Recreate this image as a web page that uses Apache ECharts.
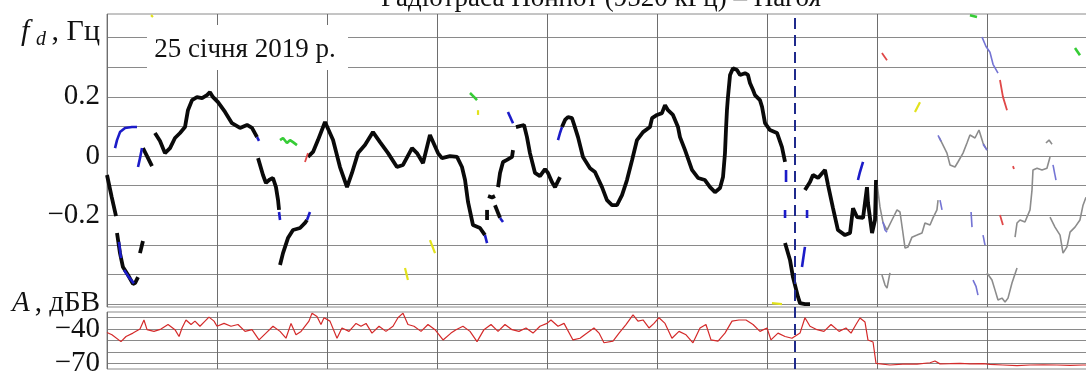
<!DOCTYPE html>
<html><head><meta charset="utf-8">
<script src="https://cdn.jsdelivr.net/npm/echarts@6/dist/echarts.min.js"></script>
<style>html,body{margin:0;padding:0;background:#fff}#c{width:1086px;height:374px}</style>
</head><body><div id="c"></div>
<script>
// ---------- data (x in grid units of the time axis, y in Hz / dBV) ----------
const titleText = 'Радіотраса Нонпот (9520 кГц) – Нагоя';
const dateText = '25 січня 2019 р.';
const topTicks = [-0.5,-0.4,-0.3,-0.2,-0.1,0,0.1,0.2,0.3,0.4];
const topLabels = [-0.2,0,0.2];
const bottomTicks = [-70,-60,-50,-40,-30];
const bottomLabels = [-70,-40];
const dashedLineX = 6.245;

const blackSegments = [
 [[0,-0.064],[0.043,-0.139],[0.082,-0.203]],
 [[0.091,-0.260],[0.118,-0.328],[0.145,-0.375],[0.191,-0.402],[0.236,-0.432],[0.255,-0.429],[0.282,-0.409]],
 [[0.30,-0.328],[0.327,-0.287]],
 [[0.327,0.027],[0.373,-0.007],[0.409,-0.034]],
 [[0.436,0.078],[0.482,0.051],[0.527,0.010],[0.573,0.027],[0.618,0.061],[0.664,0.078],[0.709,0.098],[0.736,0.155],[0.773,0.189],[0.818,0.199],[0.864,0.196],[0.909,0.206],[0.936,0.216],[0.964,0.199],[1.009,0.182],[1.073,0.149],[1.136,0.111],[1.209,0.095],[1.273,0.105],[1.318,0.095],[1.364,0.064]],
 [[1.373,-0.007],[1.418,-0.064],[1.445,-0.091],[1.473,-0.081],[1.509,-0.074],[1.536,-0.105],[1.555,-0.149],[1.564,-0.182]],
 [[1.573,-0.368],[1.6,-0.328],[1.645,-0.277],[1.691,-0.25],[1.755,-0.243],[1.8,-0.226],[1.818,-0.216]],
 [[1.827,-0.003],[1.873,0.014],[1.918,0.054],[1.982,0.115],[2.055,0.054],[2.118,-0.037],[2.182,-0.105],[2.227,-0.057],[2.282,0.010],[2.345,0.037],[2.418,0.081],[2.482,0.047],[2.555,0.010],[2.636,-0.037],[2.691,-0.030],[2.773,0.027],[2.818,0.010],[2.873,-0.024],[2.936,0.071],[3.009,0.010],[3.045,-0.007],[3.118,0],[3.182,-0.003],[3.227,-0.037],[3.255,-0.081],[3.282,-0.155],[3.327,-0.233],[3.391,-0.243],[3.436,-0.267]],
 [[3.455,-0.182],[3.455,-0.216]],
 [[3.464,-0.135],[3.5,-0.14],[3.527,-0.135]],
 [[3.527,-0.166],[3.573,-0.209]],
 [[3.555,-0.105],[3.573,-0.057],[3.6,-0.020],[3.636,-0.013],[3.682,-0.003],[3.691,0.020]],
 [[3.718,0.098],[3.791,0.105],[3.818,0.064],[3.845,0.010],[3.891,-0.057],[3.936,-0.068],[3.982,-0.044],[4.009,-0.057],[4.045,-0.088],[4.073,-0.105],[4.118,-0.071]],
 [[4.136,0.098],[4.164,0.122],[4.191,0.132],[4.227,0.128],[4.245,0.108],[4.282,0.064],[4.327,-0.003],[4.391,-0.041],[4.436,-0.054],[4.5,-0.105],[4.545,-0.149],[4.591,-0.166],[4.636,-0.166],[4.682,-0.132],[4.727,-0.081],[4.773,-0.014],[4.818,0.054],[4.873,0.081],[4.936,0.098],[4.955,0.128],[5.0,0.139],[5.045,0.145],[5.073,0.172],[5.1,0.155],[5.145,0.139],[5.191,0.098],[5.209,0.064],[5.255,0.020],[5.318,-0.047],[5.373,-0.074],[5.436,-0.081],[5.482,-0.105],[5.527,-0.122],[5.573,-0.108],[5.6,-0.071],[5.618,0.010],[5.627,0.088],[5.636,0.155],[5.645,0.199],[5.664,0.274],[5.691,0.297],[5.727,0.291],[5.755,0.274],[5.8,0.280],[5.827,0.274],[5.845,0.247],[5.873,0.223],[5.891,0.206],[5.936,0.189],[5.955,0.166],[5.982,0.111],[6.0,0.105],[6.027,0.088],[6.091,0.078],[6.136,0.030],[6.164,-0.020]],
 [[6.164,-0.294],[6.209,-0.351],[6.236,-0.409],[6.282,-0.476],[6.3,-0.497],[6.345,-0.5],[6.391,-0.5]],
 [[6.345,-0.115],[6.391,-0.088],[6.418,-0.064],[6.464,-0.074],[6.527,-0.047],[6.555,-0.098],[6.6,-0.176],[6.645,-0.25],[6.709,-0.267],[6.755,-0.260],[6.782,-0.176],[6.818,-0.206],[6.873,-0.209],[6.909,-0.105],[6.918,-0.159],[6.955,-0.26],[6.982,-0.216],[6.991,-0.081]]
];
const blueSegments = [
 [[0.073,0.027],[0.091,0.054],[0.118,0.081],[0.164,0.095],[0.227,0.098],[0.273,0.098]],
 [[0.282,-0.037],[0.3,-0.007],[0.318,0.027]],
 [[0.109,-0.29],[0.127,-0.345]],
 [[0.155,-0.385],[0.2,-0.41],[0.245,-0.43]],
 [[1.364,0.064],[1.382,0.051]],
 [[1.564,-0.189],[1.573,-0.216]],
 [[1.818,-0.216],[1.845,-0.189]],
 [[3.436,-0.267],[3.455,-0.294]],
 [[3.573,-0.209],[3.6,-0.223]],
 [[3.645,0.149],[3.691,0.111]],
 [[4.1,0.054],[4.118,0.078],[4.136,0.098]],
 [[6.173,-0.047],[6.173,-0.088]],
 [[6.164,-0.182],[6.164,-0.209]],
 [[6.318,-0.375],[6.345,-0.307]],
 [[6.364,-0.182],[6.364,-0.209]],
 [[6.827,-0.081],[6.845,-0.054],[6.873,-0.020]]
];
const lightBlueSegments = [
 [[7.055,-0.223],[7.073,-0.25],[7.091,-0.257]],
 [[7.573,-0.149],[7.591,-0.182]],
 [[7.555,0.070],[7.582,0.050]],
 [[7.964,0.040],[8.0,0.020]],
 [[7.855,-0.189],[7.864,-0.24]],
 [[7.964,-0.267],[7.982,-0.301]],
 [[7.873,-0.419],[7.9,-0.44],[7.918,-0.47]],
 [[8.6,-0.030],[8.627,-0.081]],
 [[7.955,0.402],[7.991,0.370],[8.027,0.351],[8.055,0.310],[8.1,0.280]]
];
const redSegments = [
 [[1.8,-0.020],[1.827,0.010]],
 [[8.118,-0.199],[8.145,-0.233]],
 [[8.236,-0.034],[8.245,-0.044]],
 [[7.045,0.348],[7.07,0.335],[7.091,0.324]],
 [[8.118,0.257],[8.145,0.200],[8.182,0.155]]
];
const greenSegments = [
 [[1.573,0.054],[1.6,0.061],[1.636,0.044],[1.664,0.054],[1.691,0.047],[1.727,0.037]],
 [[7.845,0.476],[7.909,0.470]],
 [[8.8,0.365],[8.845,0.341]],
 [[3.3,0.213],[3.336,0.200],[3.364,0.189]]
];
const yellowSegments = [
 [[7.345,0.149],[7.391,0.182]],
 [[0.4,0.476],[0.418,0.470]],
 [[3.373,0.155],[3.373,0.139]],
 [[2.936,-0.284],[2.982,-0.328]],
 [[2.709,-0.378],[2.736,-0.419]],
 [[6.045,-0.497],[6.136,-0.500]]
];
const graySegments = [
 [[6.991,-0.081],[7.0,-0.091],[7.027,-0.172],[7.055,-0.226],[7.091,-0.25],[7.136,-0.216],[7.182,-0.182],[7.209,-0.189],[7.236,-0.26],[7.255,-0.311],[7.282,-0.307],[7.318,-0.274],[7.364,-0.267],[7.409,-0.26],[7.436,-0.226],[7.482,-0.233],[7.509,-0.209],[7.545,-0.182],[7.555,-0.149]],
 [[7.564,0.064],[7.591,0.044],[7.636,0.010],[7.664,-0.030],[7.709,-0.037],[7.736,-0.020],[7.782,0.010],[7.818,0.044],[7.845,0.071],[7.891,0.061],[7.927,0.088],[7.964,0.044],[8.0,0.020]],
 [[7.045,-0.402],[7.073,-0.436],[7.091,-0.446],[7.118,-0.395]],
 [[8.0,-0.395],[8.045,-0.419],[8.073,-0.453],[8.1,-0.486],[8.136,-0.48],[8.164,-0.493],[8.191,-0.48],[8.227,-0.429],[8.273,-0.378]],
 [[8.255,-0.274],[8.273,-0.226],[8.3,-0.216],[8.345,-0.223],[8.391,-0.182],[8.409,-0.115],[8.418,-0.047],[8.455,-0.041],[8.5,-0.047],[8.545,-0.041],[8.573,-0.003]],
 [[8.536,0.044],[8.564,0.054],[8.591,0.040]],
 [[8.573,-0.206],[8.618,-0.24],[8.664,-0.267],[8.691,-0.328],[8.727,-0.307],[8.755,-0.257],[8.8,-0.24],[8.845,-0.216],[8.873,-0.166],[8.9,-0.139]]
];
const amplitude = [
 [0,-43],[0.045,-45],[0.127,-51],[0.173,-46.5],[0.236,-43.5],[0.3,-40],[0.336,-32],[0.364,-40.5],[0.427,-42],[0.491,-40],[0.555,-36],[0.618,-40.5],[0.655,-46.5],[0.682,-39],[0.718,-32],[0.764,-36],[0.8,-33],[0.845,-37.5],[0.891,-33],[0.927,-29.5],[0.973,-33],[1.0,-37.5],[1.064,-35],[1.127,-37.5],[1.191,-36],[1.255,-42],[1.318,-40.5],[1.382,-49.5],[1.445,-43.5],[1.509,-37.5],[1.573,-42],[1.627,-48],[1.673,-35],[1.718,-45],[1.764,-42],[1.836,-33],[1.864,-26],[1.909,-29],[1.945,-36],[1.973,-30],[2.027,-33],[2.091,-48],[2.136,-39],[2.2,-42],[2.264,-35],[2.309,-37.5],[2.355,-35],[2.409,-43.5],[2.473,-37.5],[2.536,-42],[2.6,-37.5],[2.645,-30],[2.691,-26],[2.736,-36],[2.791,-37.5],[2.855,-42],[2.918,-36],[2.982,-40.5],[3.055,-49.5],[3.127,-43.5],[3.173,-40.5],[3.236,-37.5],[3.3,-42],[3.364,-51],[3.427,-40.5],[3.491,-36],[3.555,-42],[3.618,-36],[3.682,-40.5],[3.745,-42],[3.809,-39],[3.873,-43.5],[3.936,-37.5],[4.0,-35],[4.036,-32],[4.1,-37.5],[4.155,-35],[4.236,-49.5],[4.3,-48],[4.364,-43.5],[4.427,-39],[4.473,-43.5],[4.518,-52],[4.6,-50.5],[4.655,-43.5],[4.718,-36],[4.782,-27.5],[4.827,-33],[4.873,-32],[4.927,-39],[4.973,-35],[5.018,-30],[5.073,-35],[5.136,-48],[5.2,-42],[5.264,-45],[5.327,-52],[5.391,-39],[5.445,-36],[5.491,-49.5],[5.555,-50.5],[5.618,-43.5],[5.682,-33],[5.745,-32],[5.809,-32],[5.873,-36],[5.936,-42],[6.0,-39],[6.036,-49.5],[6.1,-43.5],[6.164,-46.5],[6.227,-48],[6.3,-43.5],[6.345,-30],[6.391,-37.5],[6.455,-40.5],[6.518,-42],[6.582,-36],[6.655,-42],[6.718,-39],[6.764,-43.5],[6.809,-36],[6.845,-30.3],[6.891,-33.8],[6.918,-49.6],[6.964,-51.3],[6.991,-70],[7.0,-70.5],[7.118,-71.5],[7.236,-70.8],[7.364,-70.8],[7.482,-69.5],[7.527,-68],[7.573,-70.5],[7.664,-70.3],[7.755,-70],[7.845,-70.5],[7.964,-70.3],[8.027,-71],[8.145,-71.5],[8.273,-72],[8.391,-71.5],[8.509,-71.3],[8.636,-71.5],[8.755,-71.8],[8.873,-71.5],[8.9,-71.5]
];

// ---------- chart ----------
const FONT = 'Liberation Serif';
const GRID = '#8a8a8a';
const fmt = v => (v < 0 ? '\u2212' : '') + Math.abs(v);

function segSeries(segs, color, width, z) {
  return segs.map(s => ({
    type: 'line', xAxisIndex: 0, yAxisIndex: 0, data: s, symbol: 'none',
    lineStyle: { color: color, width: width }, z: z, silent: true, animation: false
  }));
}

const series = [].concat(
  segSeries(graySegments, '#8c8c8c', 1.6, 3),
  segSeries(blackSegments, '#0a0a0a', 3.8, 4),
  segSeries(blueSegments, '#1c1cc8', 2.6, 5),
  segSeries(lightBlueSegments, '#7474d4', 1.6, 5),
  segSeries(redSegments, '#e04848', 1.8, 5),
  segSeries(greenSegments, '#36cc36', 2.6, 5),
  segSeries(yellowSegments, '#e2e21c', 2.2, 5),
  [{
    type: 'line', xAxisIndex: 1, yAxisIndex: 1, data: amplitude, symbol: 'none',
    lineStyle: { color: '#d42a2a', width: 1.2 }, z: 4, animation: false
  },
  {
    type: 'line', xAxisIndex: 2, yAxisIndex: 2, data: [], animation: false,
    markLine: { symbol: 'none', silent: true, label: { show: false },
      lineStyle: { color: '#1f2a8c', width: 2, type: [11, 6] }, data: [{ xAxis: dashedLineX }] }
  }]
);

const xAxisCommon = {
  type: 'value', min: 0, max: 9, interval: 1,
  axisLine: { show: false }, axisTick: { show: false }, axisLabel: { show: false },
  splitLine: { show: true, lineStyle: { color: '#6e6e6e', width: 1 } }
};

const option = {
  backgroundColor: '#fff',
  animation: false,
  grid: [
    { left: 107, width: 990, top: 14, height: 293, outerBoundsMode: 'none', containLabel: false, show: true, borderColor: GRID, borderWidth: 1 },
    { left: 107, width: 990, top: 312, height: 57, outerBoundsMode: 'none', containLabel: false, show: true, borderColor: GRID, borderWidth: 1 },
    { left: 107, width: 990, top: 14, height: 355, outerBoundsMode: 'none', containLabel: false, show: false }
  ],
  xAxis: [
    Object.assign({ gridIndex: 0 }, xAxisCommon),
    Object.assign({ gridIndex: 1 }, xAxisCommon),
    { gridIndex: 2, type: 'value', min: 0, max: 9, show: false }
  ],
  yAxis: [{
    gridIndex: 0, type: 'value', min: -0.51, max: 0.48,
    axisLine: { show: false }, axisTick: { show: false, customValues: topTicks },
    axisLabel: { customValues: topLabels, formatter: fmt, fontFamily: FONT, fontSize: 29, color: '#111', margin: 7 },
    splitLine: { show: true, lineStyle: { color: GRID, width: 1 } }
  }, {
    gridIndex: 1, type: 'value', min: -75, max: -25,
    axisLine: { show: false }, axisTick: { show: false, customValues: bottomTicks },
    axisLabel: { customValues: bottomLabels, formatter: fmt, fontFamily: FONT, fontSize: 29, color: '#111', margin: 7 },
    splitLine: { show: true, lineStyle: { color: GRID, width: 1 } }
  }, {
    gridIndex: 2, type: 'value', min: 0, max: 1, show: false
  }],
  graphic: [
    { type: 'text', z: 11, x: 601, y: -1, style: { text: titleText, font: '27px "Liberation Serif"', fill: '#111', textAlign: 'center', textVerticalAlign: 'middle' } },
    { type: 'rect', z: 10, shape: { x: 147, y: 25, width: 201, height: 45 }, style: { fill: '#fff' } },
    { type: 'text', z: 11, x: 245, y: 50, style: { text: dateText, font: '27px "Liberation Serif"', fill: '#111', textAlign: 'center', textVerticalAlign: 'middle' } },
    { type: 'text', z: 11, x: 21, y: 32, style: { text: 'f', font: 'italic 30px "Liberation Serif"', fill: '#111', textVerticalAlign: 'middle' } },
    { type: 'text', z: 11, x: 36, y: 40, style: { text: 'd', font: 'italic 20px "Liberation Serif"', fill: '#111', textVerticalAlign: 'middle' } },
    { type: 'text', z: 11, x: 100, y: 32, style: { text: ', Гц', font: '30px "Liberation Serif"', fill: '#111', textAlign: 'right', textVerticalAlign: 'middle' } },
    { type: 'text', z: 11, x: 12, y: 303, style: { text: 'A', font: 'italic 29px "Liberation Serif"', fill: '#111', textVerticalAlign: 'middle' } },
    { type: 'text', z: 11, x: 100, y: 303, style: { text: ', дБВ', font: '29px "Liberation Serif"', fill: '#111', textAlign: 'right', textVerticalAlign: 'middle' } }
  ],
  series: series
};

const chart = echarts.init(document.getElementById('c'), null, { renderer: 'canvas' });
chart.setOption(option);
</script>
</body></html>
